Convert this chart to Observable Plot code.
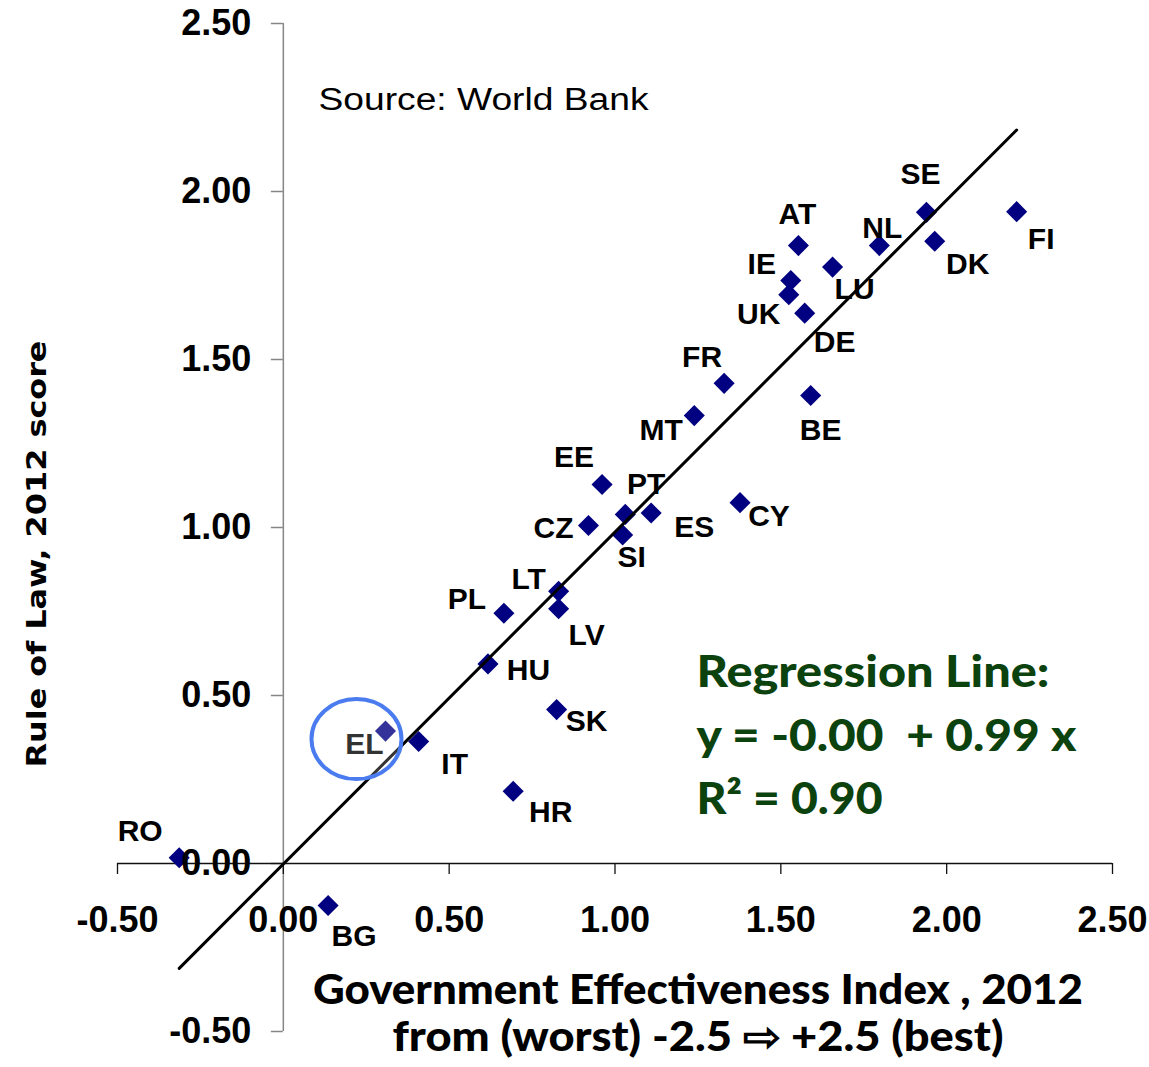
<!DOCTYPE html>
<html>
<head>
<meta charset="utf-8">
<script src="https://cdn.jsdelivr.net/npm/d3@7"></script>
<script src="https://cdn.jsdelivr.net/npm/@observablehq/plot@0.6"></script>
<style>
  html, body { margin: 0; padding: 0; background: white; }
  #chart { width: 1149px; height: 1067px; }
</style>
</head>
<body>
<div id="chart"></div>
<script>
// ---- data ----
const countries = ["RO","BG","EL","IT","HR","SK","HU","PL","LT","LV","CZ","SI","PT","ES","EE","CY","MT","FR","BE","DE","UK","IE","AT","LU","NL","DK","SE","FI"];
const govEffectiveness = [-0.314,0.135,0.308,0.408,0.693,0.824,0.617,0.665,0.830,0.830,0.920,1.023,1.031,1.109,0.961,1.377,1.239,1.329,1.590,1.572,1.524,1.530,1.553,1.656,1.797,1.964,1.939,2.211];
const ruleOfLaw        = [0.017,-0.125,0.394,0.363,0.215,0.458,0.594,0.745,0.810,0.758,1.006,0.978,1.039,1.043,1.128,1.074,1.333,1.429,1.393,1.638,1.693,1.735,1.839,1.775,1.839,1.852,1.938,1.940];
const xTicks = [-0.5, 0, 0.5, 1, 1.5, 2, 2.5];
const yTicks = [-0.5, 0, 0.5, 1, 1.5, 2, 2.5];
const highlighted = ["EL"];
const sourceNote = "Source: World Bank";
const regressionText = ["Regression Line:", "y = -0.00  + 0.99 x", "R\u00B2 = 0.90"];
const xTitle = ["Government Effectiveness Index , 2012", "from (worst) -2.5 \u21E8 +2.5 (best)"];
const yTitle = "Rule of Law, 2012 score";

// label nudges (pixels) for each country label
const labelOffsets = {
  RO:[-39,-26.5], BG:[26,31], EL:[-21,13], IT:[36,22.5], HR:[37.5,21], SK:[30,11.5],
  HU:[40.5,6], PL:[-37,-14], LT:[-30,-12], LV:[28,27], CZ:[-35,2.5], SI:[9,22.5],
  PT:[21,-30], ES:[43,14.5], EE:[-28,-27], CY:[29,14], MT:[-33,15], FR:[-22,-26],
  BE:[10,35], DE:[30,29], UK:[-30,20], IE:[-29,-16], AT:[-1,-31], LU:[22,22],
  NL:[3,-17], DK:[33,23], SE:[-6,-37.5], FI:[24.5,28]
};

const table = countries.map((c, i) => ({country: c, gov: govEffectiveness[i], law: ruleOfLaw[i]}));
const fmt = d => d.toFixed(2); // plain hyphen-minus like the reference

// ellipse symbol for the highlight
const ellipse = {
  draw(ctx) {
    const rx = 45, ry = 40, k = 0.5523;
    ctx.moveTo(rx, 0);
    ctx.bezierCurveTo(rx, ry * k, rx * k, ry, 0, ry);
    ctx.bezierCurveTo(-rx * k, ry, -rx, ry * k, -rx, 0);
    ctx.bezierCurveTo(-rx, -ry * k, -rx * k, -ry, 0, -ry);
    ctx.bezierCurveTo(rx * k, -ry, rx, -ry * k, rx, 0);
    ctx.closePath();
  }
};

const ARIAL = "'Liberation Sans', Arial, sans-serif";
const WIDE = "'DejaVu Sans', Verdana, sans-serif";
const CALIBRI = "Lato, 'Open Sans', sans-serif";
const green = "#0b420d";

const plot = Plot.plot({
  width: 1149,
  height: 1067,
  marginLeft: 117,
  marginRight: 37,
  marginTop: 23,
  marginBottom: 36,
  x: {domain: [-0.5, 2.5], axis: null},
  y: {domain: [-0.5, 2.5], axis: null},
  style: {fontFamily: ARIAL, background: "white", overflow: "visible"},
  marks: [
    // y axis at x = 0
    Plot.ruleX([0], {y1: -0.5, y2: 2.5, stroke: "#868686", strokeWidth: 1.5}),
    Plot.ruleY(yTicks, {y: d => d, x1: 0, x2: 0, insetLeft: -12, stroke: "#868686", strokeWidth: 1.5}),
    // x axis at y = 0
    Plot.ruleY([0], {x1: -0.5, x2: 2.5, stroke: "#111", strokeWidth: 1.3}),
    Plot.ruleX(xTicks, {x: d => d, y1: 0, y2: 0, insetBottom: -11, stroke: "#111", strokeWidth: 1.3}),
    // points
    Plot.dot(table, {x: "gov", y: "law", symbol: "diamond2", r: 9.5, fill: "#000080", stroke: "none"}),
    // regression line
    Plot.linearRegressionY(table, {x: "gov", y: "law", ci: 0, stroke: "black", strokeWidth: 3}),
    // tick labels
    Plot.text(yTicks, {x: 0, y: d => d, text: d => fmt(d), dx: -32, textAnchor: "end",
      fontSize: 36, fontWeight: "bold", fill: "black"}),
    Plot.text(xTicks, {x: d => d, y: 0, text: d => fmt(d), dy: 57,
      fontSize: 36, fontWeight: "bold", fill: "black"}),
    // country labels
    ...table.map(d => Plot.text([d], {x: "gov", y: "law", text: "country",
      dx: labelOffsets[d.country][0], dy: labelOffsets[d.country][1],
      fontSize: 30, fontWeight: "bold", fill: "black"})),
    // highlight ellipse around EL
    Plot.dot(table.filter(d => highlighted.includes(d.country)), {x: "gov", y: "law", symbol: ellipse,
      dx: -29, dy: 8, stroke: "#4a7cf0", strokeWidth: 4, fill: "white", fillOpacity: 0.2}),
    // source note
    Plot.text([sourceNote], {frameAnchor: "top-left", dx: 201, dy: 86, textAnchor: "start", lineAnchor: "bottom",
      fontSize: 31, fill: "black"}),
    // regression annotation
    ...regressionText.map((t, i) => Plot.text([t], {frameAnchor: "top-left", dx: 579, dy: 663.7 + i * 63.3,
      textAnchor: "start", lineAnchor: "bottom", fontFamily: CALIBRI, fontSize: 44, fontWeight: 900, fill: green})),
    // x title
    ...xTitle.map((t, i) => Plot.text([t], {frameAnchor: "bottom", dx: 83, dy: -28 + i * 47,
      textAnchor: "middle", lineAnchor: "bottom", fontFamily: CALIBRI, fontSize: 41, fontWeight: 900, fill: "black"})),
    // y title
    Plot.text([yTitle], {frameAnchor: "left", dx: -72, dy: 26.5, rotate: -90, textAnchor: "middle", lineAnchor: "bottom",
      fontFamily: WIDE, fontSize: 27, fontWeight: "bold", fill: "black"})
  ]
});

// fit long texts to the widths measured on the reference
const fits = new Map([
  [sourceNote, 330],
  [regressionText[0], 353],
  [regressionText[1], 380],
  [regressionText[2], 186],
  [xTitle[0], 770],
  [xTitle[1], 611],
  [yTitle, 427]
]);
plot.querySelectorAll("text").forEach(t => {
  const w = fits.get(t.textContent);
  if (w) {
    t.setAttribute("textLength", w);
    t.setAttribute("lengthAdjust", "spacingAndGlyphs");
  }
});

document.getElementById("chart").appendChild(plot);
</script>
</body>
</html>
